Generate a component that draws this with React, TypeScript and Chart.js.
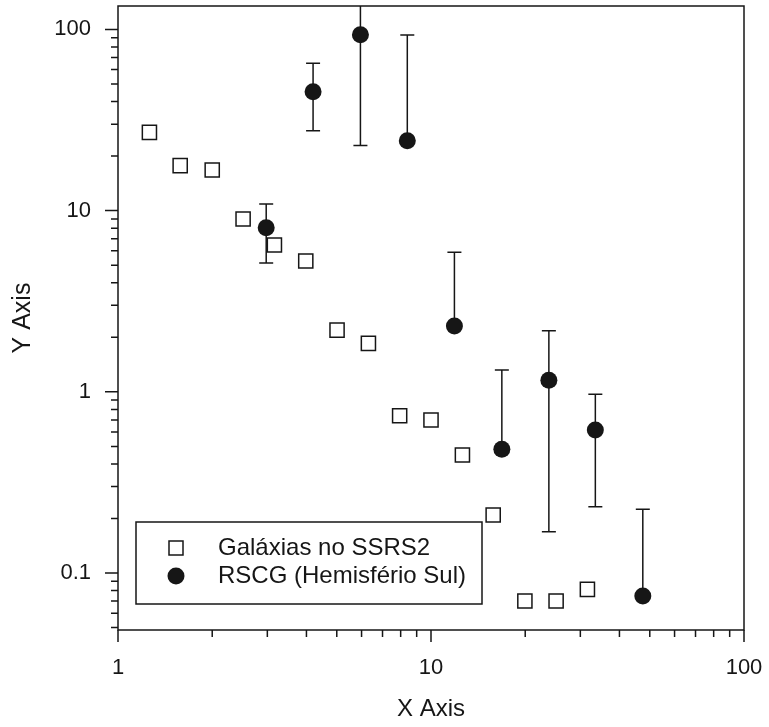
import { useEffect, useRef } from 'react';
import { Chart, registerables } from 'chart.js';

Chart.register(...registerables);

// ---------------- data ----------------
const seriesNames = ['Galáxias no SSRS2', 'RSCG (Hemisfério Sul)'];
const xTitle = 'X Axis';
const yTitle = 'Y Axis';

const ssrsX = [1.26, 1.58, 2.0, 2.51, 3.16, 3.98, 5.01, 6.31, 7.94, 10.0, 12.6, 15.8, 19.95, 25.1, 31.6];
const ssrsY = [27.0, 17.7, 16.75, 8.99, 6.46, 5.27, 2.19, 1.85, 0.738, 0.699, 0.448, 0.209, 0.0701, 0.0701, 0.0813];

const rscgX = [2.975, 4.2, 5.95, 8.4, 11.88, 16.84, 23.8, 33.5, 47.5];
const rscgY = [8.05, 45.3, 93.5, 24.3, 2.31, 0.482, 1.16, 0.615, 0.0746];
const rscgHigh = [10.87, 65.0, 150, 93.1, 5.89, 1.32, 2.17, 0.969, 0.225];
const rscgLow: (number | null)[] = [5.14, 27.6, 22.9, null, null, null, 0.169, 0.232, null];

const xMajorTicks = [1, 10, 100];
const xTickLabels = ['1', '10', '100'];
const xMinorTicks = [2, 3, 4, 5, 6, 7, 8, 9, 20, 30, 40, 50, 60, 70, 80, 90];

const yMajorTicks = [0.1, 1, 10, 100];
const yTickLabels = ['0.1', '1', '10', '100'];
const yMinorTicks = [0.05, 0.06, 0.07, 0.08, 0.09, 0.2, 0.3, 0.4, 0.5, 0.6, 0.7, 0.8, 0.9, 2, 3, 4, 5, 6, 7, 8, 9, 20, 30, 40, 50, 60, 70, 80, 90];

const X_MIN = 1;
const X_MAX = 100;
const Y_MIN = 0.0485;
const Y_MAX = 134.6;

// ---------------- styles ----------------
const INK = '#161616';
const FONT = "'Liberation Sans', Arial, Helvetica, sans-serif";

function labelFor(value: number, majors: number[], labels: string[]) {
  for (let i = 0; i < majors.length; i++) {
    if (Math.abs(value - majors[i]) / majors[i] < 1e-6) return labels[i];
  }
  return '';
}

function isMajor(value: number, majors: number[]) {
  return majors.some((m) => Math.abs(value - m) / m < 1e-6);
}

const decorPlugin = {
  id: 'decor',
  beforeDatasetsDraw(chart: any) {
    const { ctx, chartArea, scales } = chart;
    const xs = scales.x;
    const ys = scales.y;
    ctx.save();
    ctx.beginPath();
    ctx.rect(chartArea.left, chartArea.top, chartArea.right - chartArea.left, chartArea.bottom - chartArea.top);
    ctx.clip();
    ctx.strokeStyle = INK;
    ctx.lineWidth = 1.5;
    const cap = 7;
    for (let i = 0; i < rscgX.length; i++) {
      const px = xs.getPixelForValue(rscgX[i]);
      const pc = ys.getPixelForValue(rscgY[i]);
      const hi = rscgHigh[i];
      const lo = rscgLow[i];
      if (hi != null) {
        const ph = ys.getPixelForValue(hi);
        ctx.beginPath();
        ctx.moveTo(px, pc);
        ctx.lineTo(px, ph);
        ctx.moveTo(px - cap, ph);
        ctx.lineTo(px + cap, ph);
        ctx.stroke();
      }
      if (lo != null) {
        const pl = ys.getPixelForValue(lo);
        ctx.beginPath();
        ctx.moveTo(px, pc);
        ctx.lineTo(px, pl);
        ctx.moveTo(px - cap, pl);
        ctx.lineTo(px + cap, pl);
        ctx.stroke();
      }
    }
    ctx.restore();
  },
  afterDraw(chart: any) {
    const { ctx, chartArea, scales } = chart;
    const xs = scales.x;
    const ys = scales.y;
    const { left, right, top, bottom } = chartArea;
    ctx.save();
    ctx.strokeStyle = INK;
    ctx.lineWidth = 1.5;
    // frame
    ctx.strokeRect(left, top, right - left, bottom - top);
    // tick marks
    ctx.beginPath();
    for (const t of xs.ticks) {
      const px = xs.getPixelForValue(t.value);
      const len = isMajor(t.value, xMajorTicks) ? 12 : 7;
      ctx.moveTo(px, bottom);
      ctx.lineTo(px, bottom + len);
    }
    for (const t of ys.ticks) {
      const py = ys.getPixelForValue(t.value);
      const len = isMajor(t.value, yMajorTicks) ? 13 : 7;
      ctx.moveTo(left, py);
      ctx.lineTo(left - len, py);
    }
    ctx.stroke();

    // legend
    const bx = left + 18;
    const by = bottom - 108;
    const bw = 346;
    const bh = 82;
    ctx.fillStyle = '#ffffff';
    ctx.fillRect(bx, by, bw, bh);
    ctx.strokeRect(bx, by, bw, bh);
    const sx = bx + 40;
    const row1 = by + 26;
    const row2 = by + 54;
    ctx.lineWidth = 1.5;
    ctx.strokeRect(sx - 7, row1 - 7, 14, 14);
    ctx.fillStyle = INK;
    ctx.beginPath();
    ctx.arc(sx, row2, 8.5, 0, Math.PI * 2);
    ctx.fill();
    ctx.font = `24px ${FONT}`;
    ctx.textBaseline = 'middle';
    ctx.textAlign = 'left';
    ctx.fillText(seriesNames[0], bx + 82, row1);
    ctx.fillText(seriesNames[1], bx + 82, row2);
    ctx.restore();
  },
};

export default function App() {
  const ref = useRef<HTMLCanvasElement | null>(null);

  useEffect(() => {
    if (!ref.current) return;
    const chart = new Chart(ref.current, {
      type: 'scatter',
      data: {
        datasets: [
          {
            label: seriesNames[0],
            data: ssrsX.map((x, i) => ({ x, y: ssrsY[i] })),
            pointStyle: 'rect',
            pointRadius: 10,
            pointBorderWidth: 1.5,
            pointBorderColor: INK,
            pointBackgroundColor: '#ffffff',
            showLine: false,
          },
          {
            label: seriesNames[1],
            data: rscgX.map((x, i) => ({ x, y: rscgY[i] })),
            pointStyle: 'circle',
            pointRadius: 8.5,
            pointBorderWidth: 0,
            pointBorderColor: INK,
            pointBackgroundColor: INK,
            showLine: false,
          },
        ],
      },
      options: {
        animation: false,
        responsive: false,
        devicePixelRatio: 1,
        layout: { autoPadding: false, padding: { top: 6, right: 25, left: 0, bottom: 0 } },
        plugins: {
          legend: { display: false },
          tooltip: { enabled: false },
        },
        scales: {
          x: {
            type: 'logarithmic',
            min: X_MIN,
            max: X_MAX,
            afterBuildTicks: (scale: any) => {
              scale.ticks = [...xMajorTicks, ...xMinorTicks]
                .sort((a, b) => a - b)
                .map((v) => ({ value: v, major: isMajor(v, xMajorTicks) }));
            },
            afterFit: (scale: any) => {
              scale.height = 97;
              scale.paddingLeft = 0;
              scale.paddingRight = 0;
            },
            grid: { display: false, drawTicks: false },
            border: { display: false },
            ticks: {
              autoSkip: false,
              maxRotation: 0,
              padding: 25,
              color: INK,
              font: { family: FONT, size: 22 },
              callback: (value: any) => labelFor(Number(value), xMajorTicks, xTickLabels),
            },
            title: {
              display: true,
              text: xTitle,
              color: INK,
              font: { family: FONT, size: 24, lineHeight: 1.2 },
              padding: { top: 0, bottom: 3 },
            },
          },
          y: {
            type: 'logarithmic',
            min: Y_MIN,
            max: Y_MAX,
            afterBuildTicks: (scale: any) => {
              scale.ticks = [...yMajorTicks, ...yMinorTicks]
                .sort((a, b) => a - b)
                .map((v) => ({ value: v, major: isMajor(v, yMajorTicks) }));
            },
            afterFit: (scale: any) => {
              scale.width = 118;
              scale.paddingTop = 0;
              scale.paddingBottom = 0;
            },
            grid: { display: false, drawTicks: false },
            border: { display: false },
            ticks: {
              autoSkip: false,
              padding: 27,
              color: INK,
              font: { family: FONT, size: 22 },
              callback: (value: any) => labelFor(Number(value), yMajorTicks, yTickLabels),
            },
            title: {
              display: true,
              text: yTitle,
              color: INK,
              font: { family: FONT, size: 25, lineHeight: 1.2 },
              padding: { top: 8, bottom: 0 },
            },
          },
        },
      },
      plugins: [decorPlugin],
    });
    return () => chart.destroy();
  }, []);

  return (
    <div style={{ position: 'absolute', left: 0, top: 0, width: 769, height: 727, background: '#ffffff' }}>
      <canvas ref={ref} width={769} height={727} style={{ display: 'block' }} />
    </div>
  );
}
